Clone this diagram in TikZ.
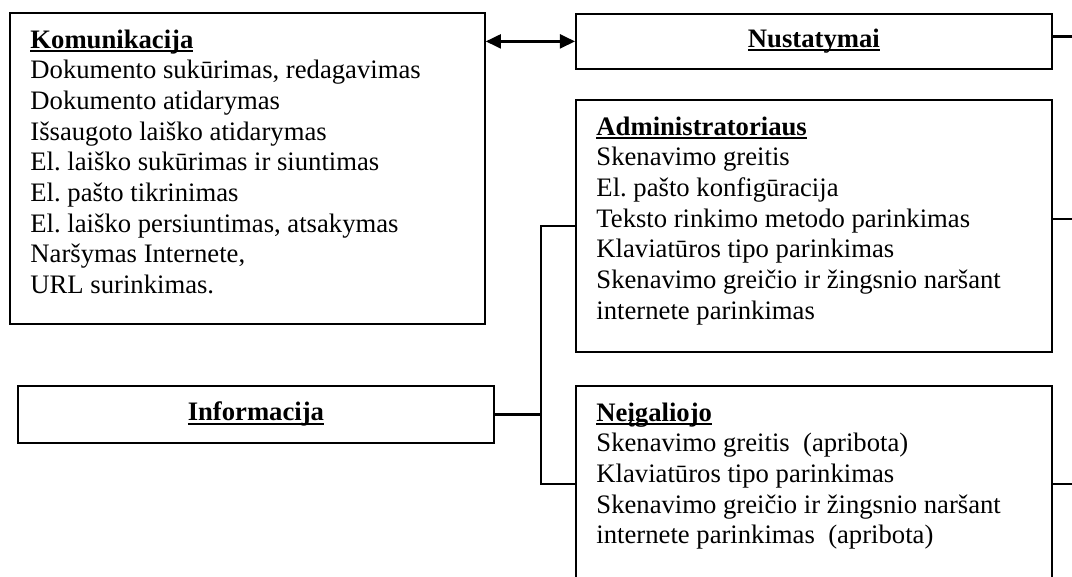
\documentclass[tikz,border=0pt]{standalone}
\usepackage{fontspec}
\setmainfont{Liberation Serif}
\usetikzlibrary{calc,arrows.meta}
\frenchspacing

\newsavebox{\headbox}
\newcommand{\headline}[1]{\sbox{\headbox}{\bfseries #1}\rlap{\rule[-1.6pt]{\wd\headbox}{0.9pt}}\usebox{\headbox}}
\newcommand{\boxlines}[1]{\begin{tabular}[t]{@{}l@{}}#1\end{tabular}}
\newcommand{\pxl}{0.45pt}

\tikzset{
    frame/.style={draw, line width=0.8pt, inner sep=0pt, anchor=north west,
        font=\fontsize{12pt}{13.8pt}\selectfont},
    listing/.style={inner sep=0pt, anchor=base west,
        font=\fontsize{12pt}{13.8pt}\selectfont},
    link/.style={line width=1pt}
}

\begin{document}
\begin{tikzpicture}[x=0.45pt, y=-0.45pt, >={Triangle[length=6.8pt, width=6.3pt]}]
    \useasboundingbox (0,0) rectangle (1072,576);
    \clip (0,0) rectangle (1072,576);

    % Frames
    \node[frame, minimum width=475*\pxl, minimum height=311*\pxl] (kom) at (9,12) {};
    \node[frame, minimum width=476*\pxl, minimum height=55*\pxl] (nust) at (575,13) {\headline{Nustatymai}};
    \node[frame, minimum width=476*\pxl, minimum height=252*\pxl] (admin) at (575,99) {};
    \node[frame, minimum width=476*\pxl, minimum height=57*\pxl] (info) at (17,385) {\headline{Informacija}};
    \node[frame, minimum width=476*\pxl, minimum height=196*\pxl] (neig) at (575,385) {};

    % Lists inside the frames
    \node[listing] (kom-txt) at ($(kom.north west)+(21,36)$) {\boxlines{%
        \headline{Komunikacija}\\
        Dokumento sukūrimas, redagavimas\\
        Dokumento atidarymas\\
        Išsaugoto laiško atidarymas\\
        El. laiško sukūrimas ir siuntimas\\
        El. pašto tikrinimas\\
        El. laiško persiuntimas, atsakymas\\
        Naršymas Internete,\\
        URL surinkimas.}};
    \node[listing] (admin-txt) at ($(admin.north west)+(21,36)$) {\boxlines{%
        \headline{Administratoriaus}\\
        Skenavimo greitis\\
        El. pašto konfigūracija\\
        Teksto rinkimo metodo parinkimas\\
        Klaviatūros tipo parinkimas\\
        Skenavimo greičio ir žingsnio naršant\\
        internete parinkimas}};
    \node[listing] (neig-txt) at ($(neig.north west)+(21,36)$) {\boxlines{%
        \headline{Neįgaliojo}\\
        Skenavimo greitis\ \ (apribota)\\
        Klaviatūros tipo parinkimas\\
        Skenavimo greičio ir žingsnio naršant\\
        internete parinkimas\ \ (apribota)}};

    % Connectors
    \coordinate (bus) at (541,417);
    \coordinate (edge) at (1085,0);
    \draw[link, <->] (kom.east |- nust.west) -- (nust.west);
    \draw[link] (info.east) -- (info.east -| bus);
    \draw[link] (admin.west) -- (admin.west -| bus) -- (neig.west -| bus) -- (neig.west);

    % Stubs leaving on the right
    \foreach \b/\dy in {nust/-5, admin/-7, neig/0} {
        \draw[link] ($(\b.east)+(0,\dy)$) -- ($(\b.east -| edge)+(0,\dy)$);
    }
\end{tikzpicture}
\end{document}
